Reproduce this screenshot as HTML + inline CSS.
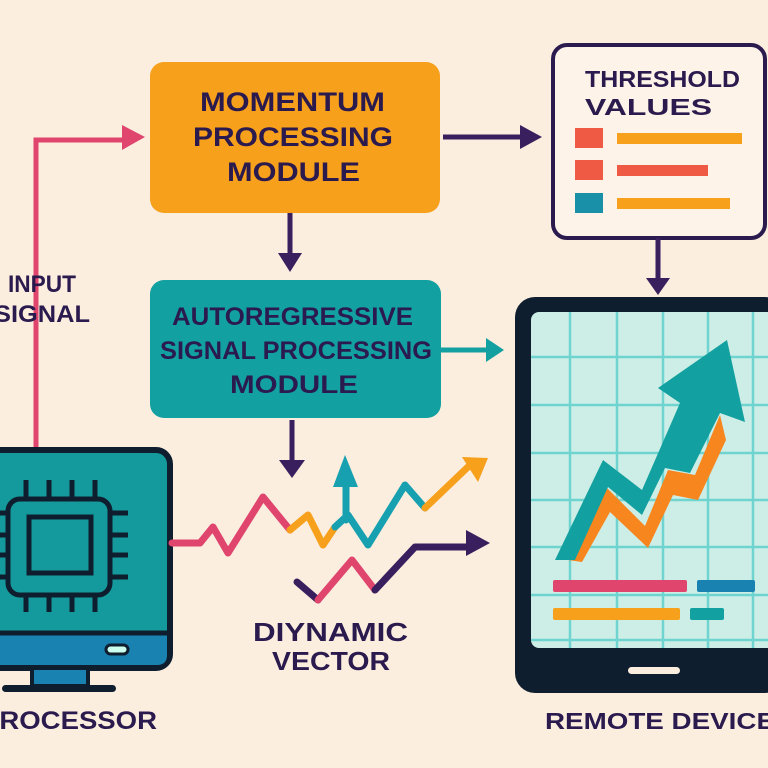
<!DOCTYPE html><html><head><style>body{margin:0;background:#fbeedf}svg{display:block}text{font-family:"Liberation Sans",sans-serif;font-weight:bold;fill:#2a1a4e}</style></head><body>
<svg width="768" height="768" viewBox="0 0 768 768">
<rect width="768" height="768" fill="#fbeedf"/>
<rect x="150" y="62" width="290" height="151" rx="14" fill="#f7a01c"/>
<text x="200" y="111" font-size="27" textLength="185" lengthAdjust="spacingAndGlyphs">MOMENTUM</text>
<text x="193" y="146" font-size="27" textLength="200" lengthAdjust="spacingAndGlyphs">PROCESSING</text>
<text x="227" y="181" font-size="27" textLength="133" lengthAdjust="spacingAndGlyphs">MODULE</text>
<rect x="150" y="280" width="291" height="138" rx="14" fill="#13a0a0"/>
<text x="172" y="325" font-size="25" textLength="241" lengthAdjust="spacingAndGlyphs">AUTOREGRESSIVE</text>
<text x="160" y="359" font-size="25" textLength="272" lengthAdjust="spacingAndGlyphs">SIGNAL PROCESSING</text>
<text x="230" y="393" font-size="25" textLength="128" lengthAdjust="spacingAndGlyphs">MODULE</text>
<rect x="553" y="45" width="212" height="193" rx="14" fill="#fdf3e8" stroke="#2a1a4e" stroke-width="4"/>
<text x="585" y="87" font-size="23" textLength="155" lengthAdjust="spacingAndGlyphs">THRESHOLD</text>
<text x="585" y="115" font-size="23" textLength="127" lengthAdjust="spacingAndGlyphs">VALUES</text>
<rect x="575" y="128" width="28" height="20" fill="#ee5a44"/><rect x="617" y="133" width="125" height="11" fill="#f7a01c"/>
<rect x="575" y="160" width="28" height="20" fill="#ee5a44"/><rect x="617" y="165" width="91" height="11" fill="#ee5a44"/>
<rect x="575" y="193" width="28" height="20" fill="#1a90a8"/><rect x="617" y="198" width="113" height="11" fill="#f7a01c"/>
<g stroke="#3a1f5e" stroke-width="5" fill="none">
<path d="M443 137H522"/><path d="M290 213V255"/><path d="M658 238V280"/><path d="M292 420V462"/>
</g>
<g fill="#3a1f5e">
<path d="M520 125L542 137L520 149Z"/><path d="M278 253L290 272L302 253Z"/><path d="M646 278L658 295L670 278Z"/><path d="M279 460L292 478L305 460Z"/>
</g>
<path d="M441 350H490" stroke="#13a0a0" stroke-width="5"/><path d="M486 338L504 350L486 362Z" fill="#13a0a0"/>
<path d="M36 450V140H125" stroke="#e0456e" stroke-width="5" fill="none"/><path d="M122 125L145 137L122 150Z" fill="#e0456e"/>
<text x="8" y="292" font-size="24" textLength="68" lengthAdjust="spacingAndGlyphs">INPUT</text>
<text x="-6" y="322" font-size="24" textLength="96" lengthAdjust="spacingAndGlyphs">SIGNAL</text>
<rect x="-20" y="450" width="190" height="218" rx="14" fill="#149a9c" stroke="#0f1e2e" stroke-width="6"/>
<path d="M-17 635H167V655Q167 665 157 665H-17Z" fill="#1a82b0"/><path d="M-20 633H170" stroke="#0f1e2e" stroke-width="5"/>
<rect x="106" y="645" width="22" height="9" rx="4.5" fill="#cfe" stroke="#0f1e2e" stroke-width="3"/>
<rect x="32" y="668" width="56" height="18" fill="#1a82b0" stroke="#0f1e2e" stroke-width="4"/>
<rect x="2" y="685" width="114" height="7" rx="3.5" fill="#0f1e2e"/>
<g stroke="#0f1e2e" stroke-width="5" fill="none">
<rect x="8" y="499" width="102" height="96" rx="12"/><rect x="29" y="517" width="62" height="56"/>
<path d="M26 480V499M49 480V499M72 480V499M95 480V499M26 595V612M49 595V612M72 595V612M95 595V612M110 513H128M110 535H128M110 555H128M110 577H128M-5 513H8M-5 535H8M-5 555H8M-5 577H8"/>
</g>
<text x="-19" y="729" font-size="25" textLength="176" lengthAdjust="spacingAndGlyphs">PROCESSOR</text>
<g stroke-width="7" fill="none" stroke-linejoin="round" stroke-linecap="round">
<path d="M172 543H200L213 527L228 553L263 497L290 530" stroke="#e0456e"/>
<path d="M290 530L308 515L323 545L335 527" stroke="#f7a01c"/>
<path d="M335 527L348 515L368 545L405 485L425 508" stroke="#17a0b0"/>
<path d="M346 520V475" stroke="#17a0b0"/>
<path d="M425 508L470 465" stroke="#f7a01c"/>
<path d="M297 582L318 600" stroke="#3a1f5e"/><path d="M318 600L352 560L375 590" stroke="#e0456e"/>
<path d="M375 590L415 547H470" stroke="#3a1f5e"/>
</g>
<path d="M333 487L345 455L358 487Z" fill="#17a0b0"/><path d="M462 457L488 458L478 482Z" fill="#f7a01c"/><path d="M466 530L490 543L466 556Z" fill="#3a1f5e"/>
<text x="253" y="641" font-size="26" textLength="155" lengthAdjust="spacingAndGlyphs">DIYNAMIC</text>
<text x="272" y="670" font-size="26" textLength="118" lengthAdjust="spacingAndGlyphs">VECTOR</text>
<rect x="515" y="297" width="270" height="396" rx="20" fill="#0f1e2e"/>
<rect x="531" y="312" width="250" height="336" rx="8" fill="#cdeee6"/>
<g stroke="#6fd3d0" stroke-width="2.5">
<path d="M570 312V648M617 312V648M663 312V648M708 312V648M753 312V648M531 357H781M531 405H781M531 453H781M531 500H781M531 547H781M531 595H781M531 640H781"/>
</g>
<path d="M568 560L605 486L645 526L668 470L695 475L720 415L726 440L698 500L673 495L648 548L610 512L582 562Z" fill="#f7861f"/>
<path d="M555 560L603 460L642 490L680 403L658 388L727 340L745 422L720 413L690 473L665 468L642 515L608 487L575 560Z" fill="#13a0a0"/>
<rect x="553" y="580" width="134" height="12" rx="2" fill="#e0456e"/><rect x="697" y="580" width="58" height="12" rx="2" fill="#1a82b0"/>
<rect x="553" y="608" width="127" height="12" rx="2" fill="#f7a01c"/><rect x="690" y="608" width="34" height="12" rx="2" fill="#13a0a0"/>
<rect x="628" y="667" width="52" height="7" rx="3.5" fill="#fbeedf"/>
<text x="545" y="729" font-size="23" textLength="230" lengthAdjust="spacingAndGlyphs">REMOTE DEVICE</text>
</svg></body></html>
